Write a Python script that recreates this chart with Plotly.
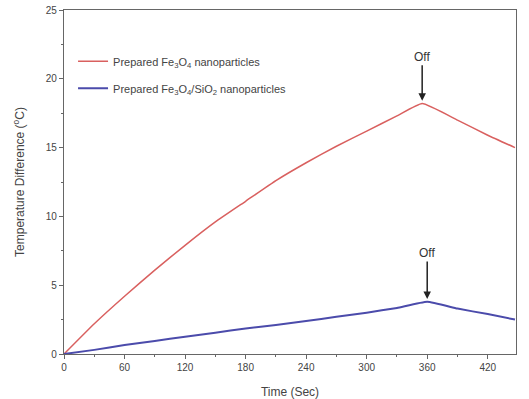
import plotly.graph_objects as go

time_red = [0, 30, 60, 90, 120, 150, 180, 210, 240, 270, 300, 330, 355, 390, 420, 447]
temp_red = [0, 2.2, 4.2, 6.1, 7.9, 9.6, 11.1, 12.6, 13.9, 15.1, 16.2, 17.3, 18.2, 17.0, 15.9, 15.0]

time_blue = [0, 30, 60, 90, 120, 150, 180, 210, 240, 270, 300, 330, 360, 390, 420, 447]
temp_blue = [0, 0.3, 0.65, 0.95, 1.26, 1.55, 1.85, 2.1, 2.4, 2.7, 3.0, 3.35, 3.8, 3.3, 2.9, 2.5]

name_red = "Prepared Fe<sub>3</sub>O<sub>4</sub> nanoparticles"
name_blue = "Prepared Fe<sub>3</sub>O<sub>4</sub>/SiO<sub>2</sub> nanoparticles"

x_ticks = [0, 60, 120, 180, 240, 300, 360, 420]
y_ticks = [0, 5, 10, 15, 20, 25]

fig = go.Figure()
fig.add_trace(go.Scatter(x=time_red, y=temp_red, mode="lines", name=name_red, legendgroup="a",
                         line=dict(color="#d9605f", width=1.5, shape="spline", smoothing=0.4)))
fig.add_trace(go.Scatter(x=time_blue, y=temp_blue, mode="lines", name=name_blue, legendgroup="b",
                         line=dict(color="#4b4bab", width=2, shape="spline", smoothing=0.4)))

fig.add_annotation(x=355, y=18.4, ax=0, ay=-44, text="Off", showarrow=True,
                   arrowhead=2, arrowsize=1, arrowwidth=1.5, arrowcolor="#222",
                   font=dict(size=12, color="#333", family="Liberation Sans"))
fig.add_annotation(x=360, y=4.0, ax=0, ay=-46, text="Off", showarrow=True,
                   arrowhead=2, arrowsize=1, arrowwidth=1.5, arrowcolor="#222",
                   font=dict(size=12, color="#333", family="Liberation Sans"))

axis_common = dict(showline=True, linecolor="#666", linewidth=1.2, mirror=True,
                   showgrid=False, zeroline=False, ticks="outside", ticklen=4, automargin=False,
                   tickcolor="#666", tickfont=dict(size=10, color="#444", family="Liberation Sans"))

fig.update_xaxes(range=[0, 448], tickvals=x_ticks,
                 minor=dict(ticks="outside", ticklen=2, dtick=30, tick0=0, tickcolor="#666"),
                 title=dict(text="Time (Sec)", font=dict(size=12, color="#444", family="Liberation Sans"), standoff=16),
                 **axis_common)
fig.update_yaxes(range=[0, 25], tickvals=y_ticks,
                 minor=dict(ticks="outside", ticklen=2, dtick=2.5, tick0=0, tickcolor="#666"),
                 title=dict(text="Temperature Difference (<sup>o</sup>C)", font=dict(size=12, color="#444", family="Liberation Sans"), standoff=18),
                 **axis_common)

fig.update_layout(
    width=529, height=399,
    margin=dict(l=64, r=13, t=10, b=45),
    paper_bgcolor="white", plot_bgcolor="white",
    font=dict(family="Liberation Sans", color="#444"),
    legend=dict(x=0.02, y=0.893, xanchor="left", yanchor="top",
                bgcolor="rgba(0,0,0,0)", font=dict(size=11, color="#444"),
                tracegroupgap=8, traceorder="grouped"),
)

fig.write_html("out.html")
